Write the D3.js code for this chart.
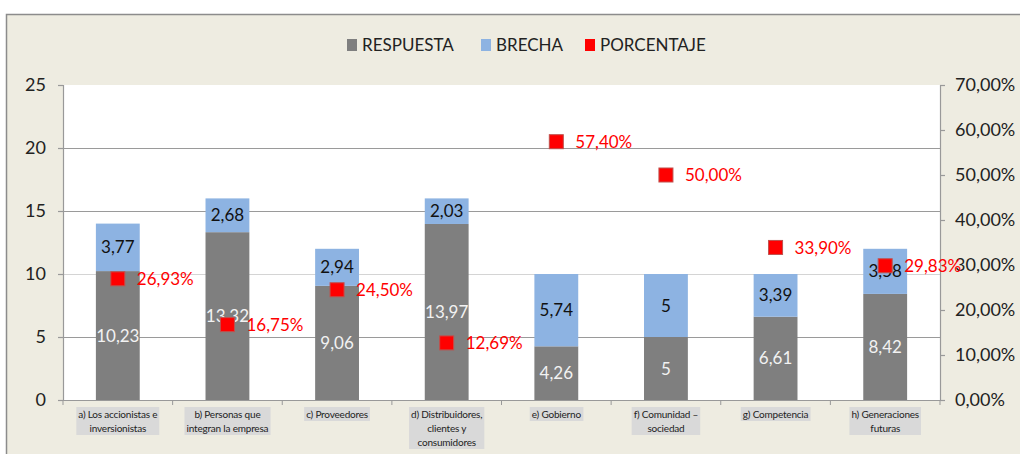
<!DOCTYPE html>
<html><head><meta charset="utf-8">
<script src="https://cdn.jsdelivr.net/npm/d3@7"></script>
<style>body{margin:0;background:#fff}svg{display:block}</style>
</head><body>
<svg id="c" width="1020" height="454"></svg>
<script>
const categories = [
  ["a)  Los accionistas e","inversionistas"],
  ["b) Personas que","integran la empresa"],
  ["c) Proveedores"],
  ["d) Distribuidores,","clientes y","consumidores"],
  ["e) Gobierno"],
  ["f) Comunidad –","sociedad"],
  ["g) Competencia"],
  ["h) Generaciones","futuras"]
];
const respuesta = [10.23, 13.32, 9.06, 13.97, 4.26, 5, 6.61, 8.42];
const brecha = [3.77, 2.68, 2.94, 2.03, 5.74, 5, 3.39, 3.58];
const porcentaje = [26.93, 16.75, 24.50, 12.69, 57.40, 50.00, 33.90, 29.83];
const leftTicks = [0, 5, 10, 15, 20, 25];
const rightTicks = [0, 10, 20, 30, 40, 50, 60, 70];
const seriesNames = ["RESPUESTA", "BRECHA", "PORCENTAJE"];

const svg = d3.select("#c");
const F = "Lato, 'Open Sans', sans-serif";
const L = 63, R = 940, T = 85, B = 400;

// chart background
svg.append("rect").attr("x", 6.5).attr("y", 14.5).attr("width", 1030).attr("height", 460)
  .attr("fill", "#EEECE1").attr("stroke", "#8c8c8c").attr("stroke-width", 1.5);
svg.append("rect").attr("x", L).attr("y", T).attr("width", R - L).attr("height", B - T).attr("fill", "#fff");

const idx = d3.range(categories.length);
const x = d3.scaleBand().domain(idx).range([L, R]).paddingInner(0).paddingOuter(0);
const y = d3.scaleLinear().domain([0, 25]).range([B, T]);
const y2 = d3.scaleLinear().domain([0, 70]).range([B, T]);

// gridlines
svg.append("g").selectAll("line").data(leftTicks.filter(t => t > 0 && t < 25)).join("line")
  .attr("x1", L).attr("x2", R).attr("y1", d => Math.round(y(d)) + 0.5).attr("y2", d => Math.round(y(d)) + 0.5)
  .attr("stroke", d => d === 10 ? "#d4d4d4" : "#9a9a9a").attr("stroke-width", 1.2);

// axes
const fmt = v => String(v).replace(".", ",");
const gl = svg.append("g").attr("transform", `translate(${L},0)`)
  .call(d3.axisLeft(y).tickValues(leftTicks).tickSize(5).tickPadding(12));
gl.selectAll("text").attr("font-family", F).attr("font-size", 18).attr("fill", "#222");
const gr = svg.append("g").attr("transform", `translate(${R},0)`)
  .call(d3.axisRight(y2).tickValues(rightTicks).tickSize(5).tickPadding(10)
    .tickFormat(d => d.toFixed(2).replace(".", ",") + "%"));
gr.selectAll("text").attr("font-family", F).attr("font-size", 18).attr("fill", "#222");
const gb = svg.append("g").attr("transform", `translate(0,${B})`)
  .call(d3.axisBottom(x).tickValues([]).tickSizeOuter(0));
svg.append("g").selectAll("line").data(d3.range(categories.length + 1)).join("line")
  .attr("x1", i => i < categories.length ? x(i) : R).attr("x2", i => i < categories.length ? x(i) : R)
  .attr("y1", B).attr("y2", B + 5).attr("stroke", "#999");
[gl, gr, gb].forEach(g => { g.selectAll("path,line").attr("stroke", "#999").attr("stroke-width", 1.2); });

// bars
const bw = x.bandwidth() * 0.4;
const bx = i => x(i) + (x.bandwidth() - bw) / 2;
svg.append("g").selectAll("rect").data(idx).join("rect")
  .attr("x", bx).attr("width", bw).attr("y", i => y(respuesta[i])).attr("height", i => B - y(respuesta[i]))
  .attr("fill", "#7F7F7F");
svg.append("g").selectAll("rect").data(idx).join("rect")
  .attr("x", bx).attr("width", bw).attr("y", i => y(respuesta[i] + brecha[i]))
  .attr("height", i => y(respuesta[i]) - y(respuesta[i] + brecha[i]))
  .attr("fill", "#8DB3E2");

// bar labels
const cx = i => x(i) + x.bandwidth() / 2;
svg.append("g").selectAll("text").data(idx).join("text")
  .attr("x", cx).attr("y", i => y(respuesta[i] / 2)).attr("dy", "0.36em")
  .attr("text-anchor", "middle").attr("font-family", F).attr("font-size", 17).attr("fill", "#F2F2F2")
  .text(i => fmt(respuesta[i]));
svg.append("g").selectAll("text").data(idx).join("text")
  .attr("x", cx).attr("y", i => y(respuesta[i] + brecha[i] / 2)).attr("dy", "0.36em")
  .attr("text-anchor", "middle").attr("font-family", F).attr("font-size", 17).attr("fill", "#111")
  .text(i => fmt(brecha[i]));

// markers
const ms = 14;
svg.append("g").selectAll("rect").data(idx).join("rect")
  .attr("x", i => cx(i) - ms / 2).attr("y", i => y2(porcentaje[i]) - ms / 2)
  .attr("width", ms).attr("height", ms).attr("fill", "#FF0000").attr("stroke", "#C0504D").attr("stroke-width", 1);
svg.append("g").selectAll("text").data(idx).join("text")
  .attr("x", i => cx(i) + 19).attr("y", i => y2(porcentaje[i])).attr("dy", "0.36em")
  .attr("font-family", F).attr("font-size", 17).attr("fill", "#FF0000")
  .text(i => porcentaje[i].toFixed(2).replace(".", ",") + "%");

// category labels
const cg = svg.append("g");
idx.forEach(i => {
  const g = cg.append("g");
  const t = g.append("text").attr("font-family", F).attr("font-size", 10).attr("fill", "#222")
    .attr("text-anchor", "middle").attr("letter-spacing", "-0.2");
  categories[i].forEach((ln, k) => {
    t.append("tspan").attr("x", cx(i)).attr("y", 418 + k * 14).text(ln);
  });
  const bb = t.node().getBBox();
  g.insert("rect", "text").attr("x", bb.x - 2).attr("y", bb.y - 1).attr("width", bb.width + 4).attr("height", bb.height + 2)
    .attr("fill", "#D9D9D9");
});

// legend
const legColors = ["#7F7F7F", "#8DB3E2", "#FF0000"];
const lg = svg.append("g");
let lx = 347;
const legX = [347, 481, 585];
seriesNames.forEach((n, k) => {
  lg.append("rect").attr("x", legX[k]).attr("y", 39).attr("width", 10).attr("height", 12).attr("fill", legColors[k]);
  lg.append("text").attr("x", legX[k] + 15).attr("y", 45).attr("dy", "0.36em")
    .attr("font-family", F).attr("font-size", 17).attr("fill", "#222").text(n);
});
</script>
</body></html>
